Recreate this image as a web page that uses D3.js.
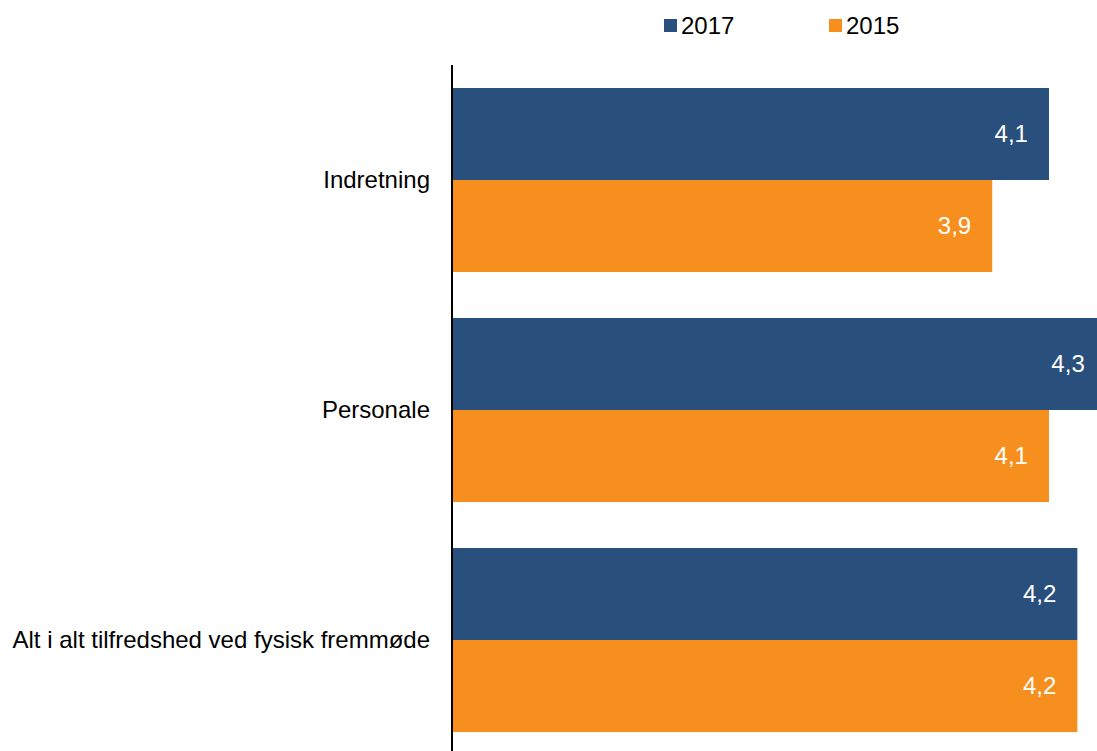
<!DOCTYPE html>
<html>
<head>
<meta charset="utf-8">
<script src="https://cdn.jsdelivr.net/npm/d3@7"></script>
<style>
  html, body { margin: 0; padding: 0; background: #fff; }
  svg { display: block; font-family: "Liberation Sans", Arial, sans-serif; }
</style>
</head>
<body>
<svg id="chart" width="1097" height="751"></svg>
<script>
// Satisfaction scores per area, two survey years
const categories = ["Indretning", "Personale", "Alt i alt tilfredshed ved fysisk fremmøde"];
const seriesNames = ["2017", "2015"];
const values2017 = [4.1, 4.3, 4.2];
const values2015 = [3.9, 4.1, 4.2];
const seriesColors = ["#294f7c", "#f78f1e"];

const svg = d3.select("#chart");
const W = 1097, H = 751;
const plotLeft = 453, plotTop = 65, plotBottom = 755;

const x = d3.scaleLinear().domain([2, 4.3]).range([plotLeft, plotLeft + 2.3 * 283.8]);
const y = d3.scaleBand().domain(categories).range([plotTop, plotBottom]).paddingInner(0.2).paddingOuter(0.1);
const ySub = d3.scaleBand().domain(seriesNames).range([0, y.bandwidth()]);

const rows = categories.map((c, i) => ({
  cat: c,
  vals: [values2017[i], values2015[i]]
}));

const fmt = v => d3.format(".1f")(v).replace(".", ",");

const g = svg.append("g");
const groups = g.selectAll("g.cat").data(rows).join("g")
  .attr("class", "cat")
  .attr("transform", d => `translate(0,${y(d.cat)})`);

groups.selectAll("rect").data(d => d.vals.map((v, k) => ({ v, k })))
  .join("rect")
  .attr("x", x(2))
  .attr("y", d => ySub(seriesNames[d.k]))
  .attr("width", d => x(d.v) - x(2))
  .attr("height", ySub.bandwidth())
  .attr("fill", d => seriesColors[d.k]);

groups.selectAll("text.val").data(d => d.vals.map((v, k) => ({ v, k })))
  .join("text")
  .attr("class", "val")
  .attr("x", d => x(d.v) - 21)
  .attr("y", d => ySub(seriesNames[d.k]) + ySub.bandwidth() / 2)
  .attr("dy", "0.35em")
  .attr("text-anchor", "end")
  .attr("fill", "#fff")
  .attr("font-size", 24)
  .text(d => fmt(d.v));

// Category axis on the left
const axis = d3.axisLeft(y).tickSize(0).tickPadding(22);
const ax = svg.append("g").attr("transform", `translate(${plotLeft - 1},0)`).call(axis);
ax.select(".domain").attr("stroke", "#000").attr("stroke-width", 2).attr("d", `M0,${plotTop}V${H}`);
ax.selectAll("text").attr("font-size", 24).attr("fill", "#000")
  .attr("font-family", "'Liberation Sans', Arial, sans-serif");

// Legend
const legendX = [664, 829];
const legend = svg.append("g").selectAll("g").data(seriesNames).join("g")
  .attr("transform", (d, i) => `translate(${legendX[i]},19)`);
legend.append("rect").attr("width", 13).attr("height", 13).attr("fill", (d, i) => seriesColors[i]);
legend.append("text").attr("x", 17).attr("y", 6.5).attr("dy", "0.35em")
  .attr("font-size", 24).attr("fill", "#000").text(d => d);
</script>
</body>
</html>
